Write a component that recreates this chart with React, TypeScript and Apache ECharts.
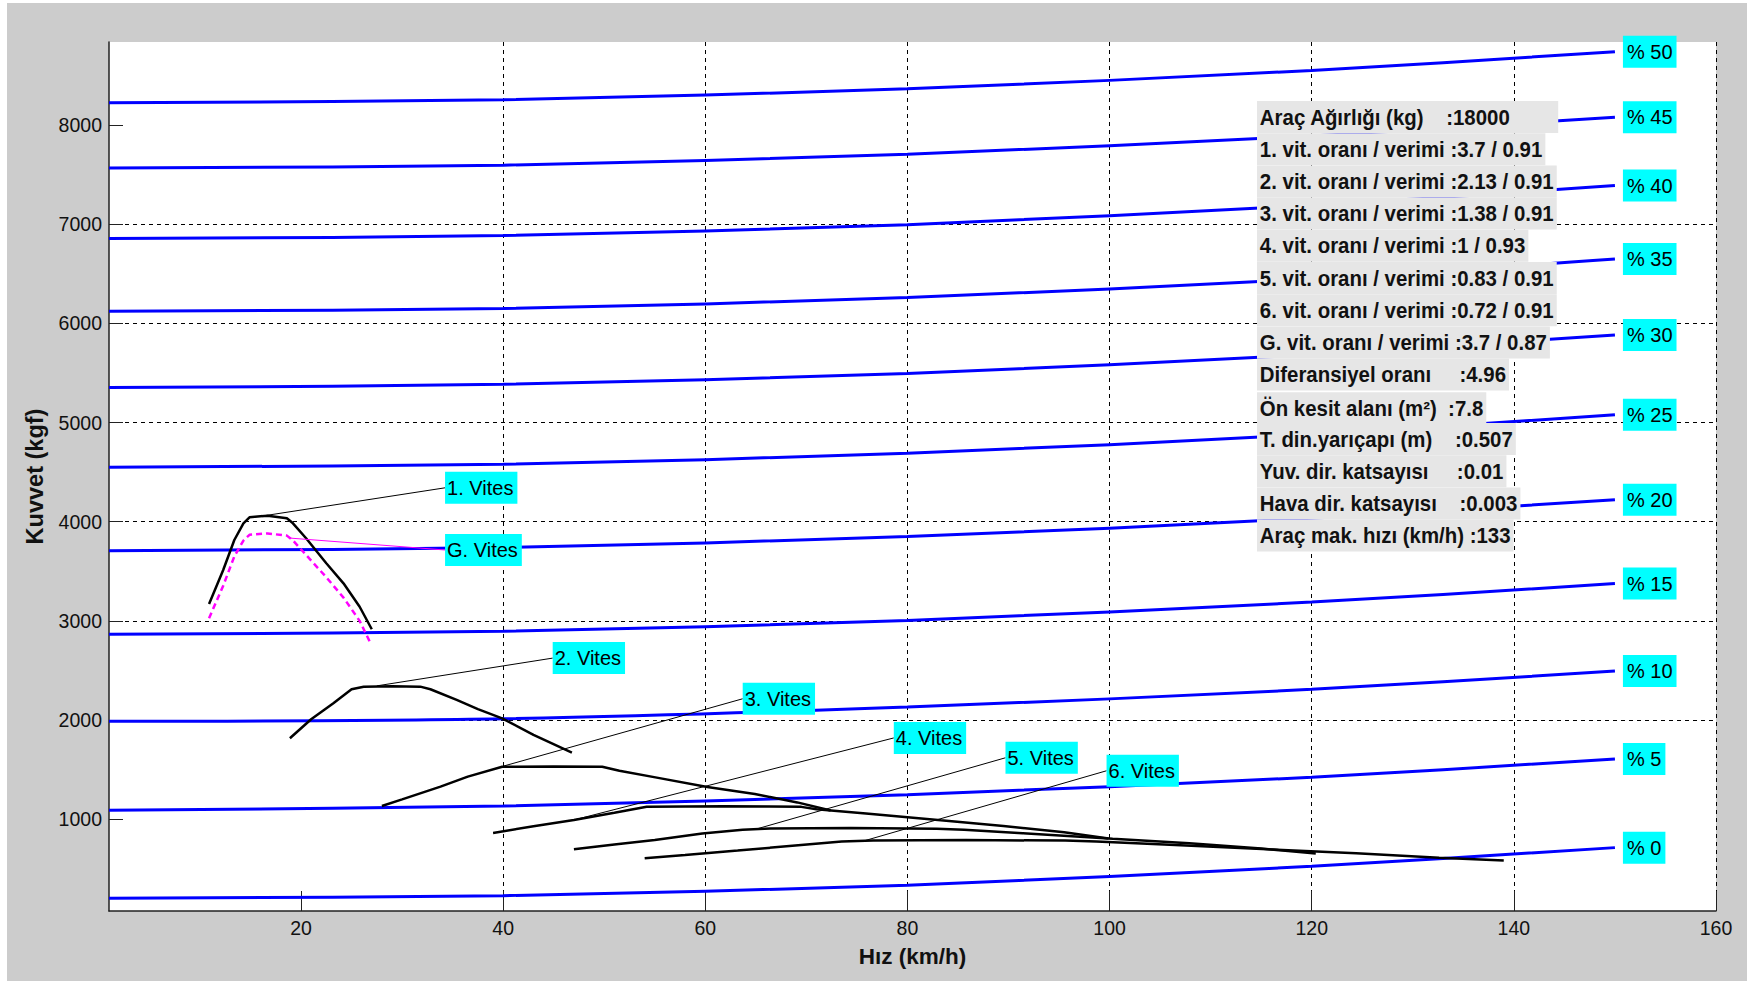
import React, { useEffect, useRef } from 'react';
import * as echarts from 'echarts';

// ---------- data ----------
const xTickValues = [20, 40, 60, 80, 100, 120, 140, 160];
const yTickValues = [1000, 2000, 3000, 4000, 5000, 6000, 7000, 8000];

// grade resistance lines (% 0 ... % 50), read at these speeds
const gradeX = [1, 40, 80, 120, 150];
const gradeLabels = ['% 0', '% 5', '% 10', '% 15', '% 20', '% 25', '% 30', '% 35', '% 40', '% 45', '% 50'];
const grade0 = [203, 230, 335, 525, 714];
const grade5 = [1091, 1134, 1248, 1423, 1608];
const grade10 = [1987, 2014, 2131, 2310, 2494];
const grade15 = [2866, 2895, 3005, 3190, 3376];
const grade20 = [3708, 3740, 3850, 4035, 4222];
const grade25 = [4550, 4580, 4690, 4880, 5078];
const grade30 = [5353, 5385, 5495, 5685, 5883];
const grade35 = [6121, 6150, 6260, 6450, 6649];
const grade40 = [6855, 6885, 6995, 7190, 7389];
const grade45 = [7566, 7595, 7705, 7890, 8078];
const grade50 = [8225, 8255, 8365, 8550, 8739];

// traction force per gear
const gear1X = [10.9, 12.3, 13.4, 14.3, 14.9, 16.7, 18.6, 19.2, 20.5, 22.5, 24.2, 25.8, 27.0];
const gear1Y = [3171, 3513, 3816, 3984, 4045, 4061, 4035, 3984, 3833, 3581, 3379, 3143, 2916];
const gearGX = [10.9, 12.3, 13.4, 14.3, 14.9, 16.7, 18.6, 19.2, 20.5, 22.5, 24.2, 25.8, 26.8];
const gearGY = [3027, 3355, 3650, 3810, 3868, 3882, 3860, 3812, 3665, 3440, 3235, 3000, 2791];
const gear2X = [18.9, 21.0, 23.2, 25.0, 26.2, 29.0, 31.8, 32.8, 35.4, 37.5, 39.9, 43.0, 46.8];
const gear2Y = [1817, 2008, 2170, 2311, 2337, 2340, 2337, 2311, 2203, 2110, 2018, 1850, 1671];
const gear3X = [28.0, 30.0, 33.8, 36.5, 39.9, 45.0, 49.8, 51.5, 55.2, 60.2, 64.9, 69.1, 72.4];
const gear3Y = [1134, 1200, 1329, 1430, 1530, 1532, 1530, 1490, 1420, 1325, 1255, 1170, 1088];
const gear4X = [39.0, 43.0, 47.0, 51.0, 54.2, 61.8, 69.5, 71.0, 75.9, 83.3, 89.5, 95.5, 99.9];
const gear4Y = [862, 930, 993, 1065, 1127, 1132, 1125, 1100, 1059, 989, 933, 868, 805];
const gear5X = [47.0, 51.0, 55.0, 59.7, 63.7, 66.4, 74.4, 82.9, 85.6, 91.4, 100.3, 107.9, 115.0, 120.4];
const gear5Y = [697, 745, 790, 856, 894, 907, 912, 905, 894, 860, 803, 758, 705, 654];
const gear6X = [54.0, 58.0, 63.2, 68.9, 73.5, 76.6, 85.8, 95.6, 98.7, 105.4, 115.6, 124.4, 132.6, 139.0];
const gear6Y = [607, 640, 684, 735, 775, 787, 790, 785, 775, 746, 697, 658, 612, 583];

// gear labels with leader lines (from a point on the curve to the label)
const gearLabels = ['1. Vites', 'G. Vites', '2. Vites', '3. Vites', '4. Vites', '5. Vites', '6. Vites'];
const leaderFromX = [16.2, 18.9, 27.5, 40.0, 47.0, 65.0, 75.7];
const leaderFromY = [4058, 3835, 2345, 1535, 993, 900, 782];
const leaderToX = [34.25, 34.25, 44.9, 63.7, 78.65, 89.7, 99.7];
const leaderToY = [4342, 3715, 2625, 2215, 1820, 1620, 1489];

const infoLines = [
  'Araç Ağırlığı (kg)    :18000',
  '1. vit. oranı / verimi :3.7 / 0.91',
  '2. vit. oranı / verimi :2.13 / 0.91',
  '3. vit. oranı / verimi :1.38 / 0.91',
  '4. vit. oranı / verimi :1 / 0.93',
  '5. vit. oranı / verimi :0.83 / 0.91',
  '6. vit. oranı / verimi :0.72 / 0.91',
  'G. vit. oranı / verimi :3.7 / 0.87',
  'Diferansiyel oranı     :4.96',
  'Ön kesit alanı (m²)  :7.8',
  'T. din.yarıçapı (m)    :0.507',
  'Yuv. dir. katsayısı     :0.01',
  'Hava dir. katsayısı    :0.003',
  'Araç mak. hızı (km/h) :133',
];

// ---------- styles ----------
const SANS = "'Liberation Sans', Arial, sans-serif";

export default function App() {
  const ref = useRef<HTMLDivElement>(null);

  useEffect(() => {
    if (!ref.current) return;
    const chart = echarts.init(ref.current, null, { renderer: 'svg' });

    const gradeSets = [grade0, grade5, grade10, grade15, grade20, grade25, grade30, grade35, grade40, grade45, grade50];
    const series: any[] = [];

    gradeSets.forEach((vals, i) => {
      series.push({
        type: 'line',
        name: gradeLabels[i],
        data: gradeX.map((x, j) => [x, vals[j]]),
        symbol: 'none',
        smooth: 0.3,
        silent: true,
        z: 2,
        lineStyle: { color: '#0000ff', width: 3 },
        endLabel: {
          show: true,
          formatter: gradeLabels[i],
          distance: 8,
          backgroundColor: '#00ffff',
          padding: [5, 4, 5, 4],
          color: '#000',
          fontFamily: SANS,
          fontSize: 20,
          lineHeight: 22,
        },
      });
    });

    const gears: [number[], number[], string, boolean][] = [
      [gear1X, gear1Y, '#000', false],
      [gearGX, gearGY, '#ff00ff', true],
      [gear2X, gear2Y, '#000', false],
      [gear3X, gear3Y, '#000', false],
      [gear4X, gear4Y, '#000', false],
      [gear5X, gear5Y, '#000', false],
      [gear6X, gear6Y, '#000', false],
    ];
    gears.forEach(([xs, ys, color, dashed]) => {
      series.push({
        type: 'line',
        data: xs.map((x, j) => [x, ys[j]]),
        symbol: 'none',
        silent: true,
        z: 3,
        lineStyle: { color, width: 2.5, type: dashed ? [6, 4] : 'solid' },
      });
    });

    gearLabels.forEach((lab, i) => {
      series.push({
        type: 'line',
        data: [
          [leaderFromX[i], leaderFromY[i]],
          [leaderToX[i], leaderToY[i]],
        ],
        symbol: 'none',
        silent: true,
        z: 4,
        lineStyle: { color: lab.startsWith('G') ? '#ff00ff' : '#000', width: 1 },
        endLabel: {
          show: true,
          formatter: lab,
          distance: 0,
          backgroundColor: '#00ffff',
          padding: [5, 4, 5, 2],
          color: '#000',
          fontFamily: SANS,
          fontSize: 20,
          lineHeight: 22,
        },
      });
    });

    const infoElements = infoLines.map((t, i) => ({
      type: 'text',
      x: 1250,
      y: 114 + 32.2 * i + (i === 9 ? 1.5 : 0),
      scaleX: 0.95,
      z: 100,
      silent: true,
      style: {
        text: t,
        x: 0,
        y: 0,
        verticalAlign: 'middle',
        fontFamily: SANS,
        fontWeight: 'bold',
        fontSize: 21.5,
        lineHeight: 20,
        fill: '#111',
        backgroundColor: '#e6e6e6',
        padding: [6, i === 0 ? 50 : 3, 6, 3],
      },
    }));

    const axisLine = { show: true, onZero: false, lineStyle: { color: '#222', width: 1.5 } };
    const splitLine = { show: true, showMinLine: false, lineStyle: { color: '#000', width: 1, type: [4, 4] } };
    const plain = (v: number) => String(v);

    chart.setOption({
      animation: false,
      backgroundColor: '#cccccc',
      grid: {
        left: 102,
        top: 39,
        right: 31,
        bottom: 70,
        show: true,
        backgroundColor: '#ffffff',
        borderWidth: 0,
        containLabel: false,
        outerBoundsMode: 'none',
      },
      xAxis: {
        type: 'value',
        min: 1,
        max: 160,
        splitNumber: 8,
        name: 'Hız (km/h)',
        nameLocation: 'middle',
        nameGap: 34,
        nameMoveOverlap: false,
        nameTextStyle: { fontFamily: SANS, fontWeight: 'bold', fontSize: 22.5, color: '#111' },
        axisLine,
        axisTick: { show: true, inside: true, length: 20, customValues: xTickValues, lineStyle: { color: '#222', width: 1 } },
        axisLabel: { customValues: xTickValues, margin: 7, fontFamily: SANS, fontSize: 19.5, color: '#111', formatter: plain },
        splitLine: { ...splitLine, showMaxLine: true },
      },
      yAxis: {
        type: 'value',
        min: 75,
        max: 8837,
        splitNumber: 8,
        name: 'Kuvvet (kgf)',
        nameLocation: 'middle',
        nameGap: 62,
        nameRotate: 90,
        nameMoveOverlap: false,
        nameTextStyle: { fontFamily: SANS, fontWeight: 'bold', fontSize: 23.5, color: '#111' },
        axisLine,
        axisTick: { show: true, inside: true, length: 14, customValues: yTickValues, lineStyle: { color: '#222', width: 1 } },
        axisLabel: { customValues: yTickValues, margin: 7, fontFamily: SANS, fontSize: 19.5, color: '#111', formatter: plain },
        splitLine: { ...splitLine, showMaxLine: false },
      },
      graphic: { elements: infoElements },
      series,
    });

    return () => {
      chart.dispose();
    };
  }, []);

  return (
    <div
      ref={ref}
      style={{ position: 'fixed', left: 7, top: 3, width: 1740, height: 978, background: '#cccccc' }}
    />
  );
}
